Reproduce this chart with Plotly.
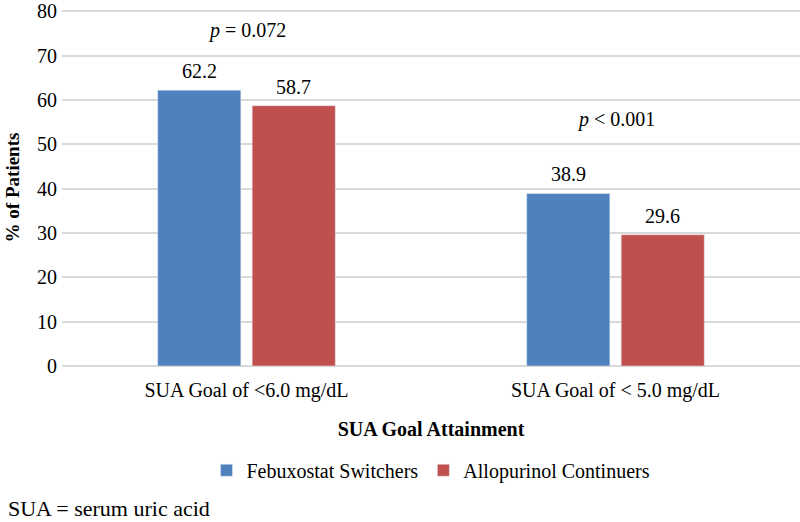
import plotly.graph_objects as go

categories = ["SUA Goal of <6.0 mg/dL", "SUA Goal of < 5.0 mg/dL"]
febuxostat = [62.2, 38.9]
allopurinol = [58.7, 29.6]
series_names = ["Febuxostat Switchers", "Allopurinol Continuers"]
p_labels = ["<i>p</i> = 0.072", "<i>p</i> < 0.001"]
p_y = [75.7, 55.6]

FONT = "Liberation Serif, Times New Roman, serif"
BARGAP = 0.488

fig = go.Figure()
fig.add_trace(go.Bar(x=categories, y=febuxostat, name=series_names[0],
                     marker_color="#4F81BD"))
fig.add_trace(go.Bar(x=categories, y=allopurinol, name=series_names[1],
                     marker_color="#C0504D"))

# data labels above each bar
slot = (1 - BARGAP) / 2
for vals, off in ((febuxostat, -slot / 2), (allopurinol, slot / 2)):
    for i, v in enumerate(vals):
        fig.add_annotation(x=i + off, y=v, text=f"{v:.1f}", showarrow=False,
                           yanchor="bottom", yshift=6,
                           font=dict(size=20, color="black", family=FONT))

for c, t, yv in zip(categories, p_labels, p_y):
    fig.add_annotation(x=c, y=yv, text=t, showarrow=False,
                       font=dict(size=20, color="black", family=FONT))

fig.add_annotation(x=0, xref="paper", xanchor="left", y=-0.40, yref="paper", yanchor="middle",
                   text="SUA = serum uric acid", showarrow=False,
                   font=dict(size=22, color="black", family=FONT), xshift=-56)

fig.update_layout(
    width=800, height=522,
    margin=dict(l=62, r=0, t=9, b=156, autoexpand=False),
    paper_bgcolor="white", plot_bgcolor="white",
    barmode="group", bargap=BARGAP, bargroupgap=0.12,
    font=dict(family=FONT, size=20, color="black"),
    showlegend=True,
    legend=dict(orientation="h", x=0.5, xanchor="center", y=-0.292, yanchor="middle",
                font=dict(size=20, family=FONT), traceorder="normal"),
    yaxis=dict(range=[0, 80.5], tickvals=[0, 10, 20, 30, 40, 50, 60, 70, 80],
               ticklabeloverflow="allow",
               showgrid=True, gridcolor="#D9D9D9", gridwidth=1.5,
               zeroline=True, zerolinecolor="#D9D9D9", zerolinewidth=1.5,
               tickfont=dict(size=20, family=FONT), ticks="", ticklabelstandoff=4,
               title=dict(text="<b>% of Patients</b>", font=dict(size=19, family=FONT), standoff=12)),
    xaxis=dict(tickfont=dict(size=20, family=FONT), showline=False, ticks="",
               ticklabelstandoff=10, range=[-0.5, 1.5],
               title=dict(text="<b>SUA Goal Attainment</b>", font=dict(size=20, family=FONT), standoff=20)),
)

fig.write_html("out.html", post_script="document.body.style.margin='0';",
               config={"displayModeBar": False})
